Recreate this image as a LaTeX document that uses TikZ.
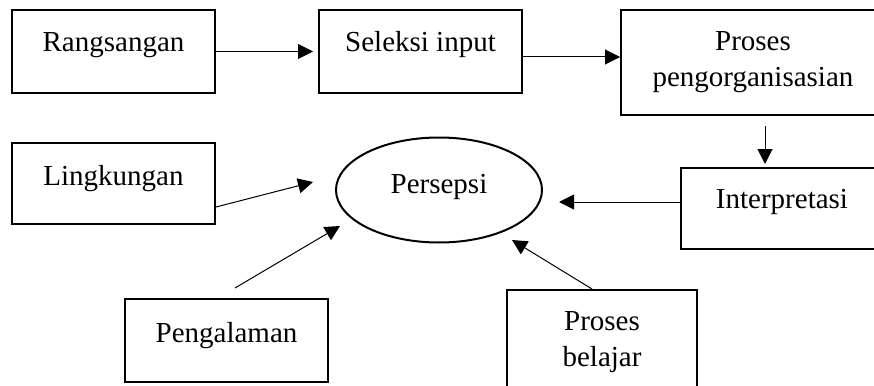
\documentclass[tikz,border=0pt]{standalone}
\usepackage{fontspec}
\setmainfont{Liberation Serif}
\usetikzlibrary{arrows.meta,shapes.geometric}
\begin{document}
\begin{tikzpicture}[x=1pt,y=-1pt,
  box/.style={draw, line width=2pt, rectangle, inner sep=0pt},
  lbl/.style={anchor=base, inner sep=0pt, font=\fontsize{29}{36}\selectfont},
  arr/.style={line width=1pt, -{Triangle[length=15pt,width=15pt]}}]
\path[use as bounding box] (0,0) rectangle (874,385);
\clip (0,0) rectangle (874,385);
% boxes
\node[box, minimum width=203pt, minimum height=83pt] (rang) at (113.5,51.5) {};
\node[box, minimum width=203pt, minimum height=83pt] (sel) at (420.5,51.5) {};
\node[box, minimum width=264pt, minimum height=105pt] (proc) at (753,62.5) {};
\node[box, minimum width=202pt, minimum height=81pt] (interp) at (782,208.5) {};
\node[box, minimum width=203pt, minimum height=81pt] (ling) at (113.5,183.5) {};
\node[box, minimum width=203pt, minimum height=83pt] (peng) at (226.5,340.5) {};
\node[box, minimum width=190pt, minimum height=100pt] (pb) at (602,340) {};
\node[draw, line width=2pt, ellipse, minimum width=206pt, minimum height=105pt, inner sep=0pt] (pers) at (439,190) {};
% texts
\node[lbl] (tRang) at (113.5,52) {Rangsangan};
\node[lbl] (tSel) at (420.5,52) {Seleksi input};
\node[lbl] (tProc1) at (753,51) {Proses};
\node[lbl] (tProc2) at (753,87) {pengorganisasian};
\node[lbl] (tInterp) at (782,208) {Interpretasi};
\node[lbl] (tLing) at (113.5,185) {Lingkungan};
\node[lbl] (tPers) at (439,193) {Persepsi};
\node[lbl] (tPeng) at (226.5,342) {Pengalaman};
\node[lbl] (tPb1) at (602,330) {Proses};
\node[lbl] (tPb2) at (602,366) {belajar};
% free ends
\coordinate (dx) at (765,120);
\coordinate (lingEnd) at (313,182);
\coordinate (pengStart) at (235,288);
\coordinate (pengEnd) at (340,226);
\coordinate (pbEnd) at (512,240);
% connectors
\draw[arr, shorten >=5pt] (rang.east) -- (sel.west);
\draw[arr] ([yshift=-5.5pt]sel.east) -- ([yshift=5.5pt]proc.west);
\draw[arr, shorten <=10pt, shorten >=3pt] (proc.south -| dx) -- (interp.north -| dx);
\draw[arr, shorten >=16pt] ([yshift=6.5pt]interp.west) -- ([yshift=-12pt]pers.east);
\draw[arr] ([yshift=-23.5pt]ling.east) -- (lingEnd);
\draw[arr] (pengStart) -- (pengEnd);
\draw[arr] ([xshift=-10pt]pb.north) -- (pbEnd);
\end{tikzpicture}
\end{document}
